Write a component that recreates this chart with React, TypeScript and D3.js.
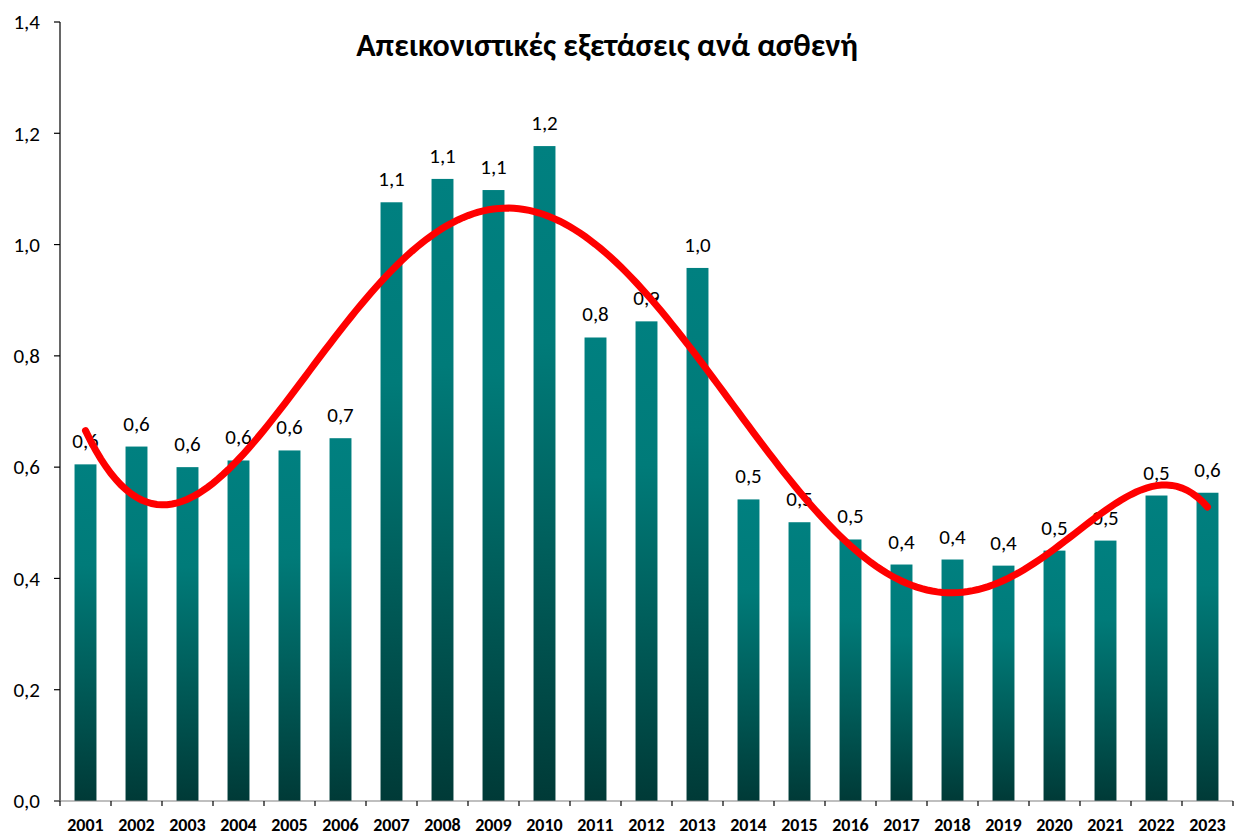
import React from "react";
import * as d3 from "d3";

const years = ["2001","2002","2003","2004","2005","2006","2007","2008","2009","2010","2011","2012","2013","2014","2015","2016","2017","2018","2019","2020","2021","2022","2023"];
const values = [0.605,0.637,0.600,0.612,0.630,0.652,1.076,1.118,1.098,1.177,0.833,0.862,0.958,0.542,0.501,0.470,0.425,0.434,0.423,0.450,0.468,0.549,0.554];
const yTicks = [0,0.2,0.4,0.6,0.8,1.0,1.2,1.4];
const title = "Απεικονιστικές εξετάσεις ανά ασθενή";

const W = 1240, H = 836;
const M = { left: 60, right: 1233, top: 22, bottom: 801 };

function polyFit(xs: number[], ys: number[], order: number): number[] {
  const n = order + 1;
  const A: number[][] = Array.from({ length: n }, () => new Array(n + 1).fill(0));
  for (let k = 0; k < xs.length; k++) {
    const p: number[] = [];
    for (let j = 0; j < 2 * n; j++) p.push(Math.pow(xs[k], j));
    for (let r = 0; r < n; r++) {
      for (let c = 0; c < n; c++) A[r][c] += p[r + c];
      A[r][n] += p[r] * ys[k];
    }
  }
  for (let i = 0; i < n; i++) {
    let mx = i;
    for (let r = i + 1; r < n; r++) if (Math.abs(A[r][i]) > Math.abs(A[mx][i])) mx = r;
    [A[i], A[mx]] = [A[mx], A[i]];
    for (let r = 0; r < n; r++) {
      if (r === i) continue;
      const f = A[r][i] / A[i][i];
      for (let c = i; c <= n; c++) A[r][c] -= f * A[i][c];
    }
  }
  return A.map((row, i) => row[n] / row[i]);
}

export default function App() {
  const x = d3.scaleBand<string>().domain(years).range([M.left, M.right]).paddingInner(0.57).paddingOuter(0.285);
  const xb = d3.scaleBand<string>().domain(years).range([M.left, M.right]);
  const y = d3.scaleLinear().domain([0, 1.4]).range([M.bottom, M.top]);
  const fmt = (v: number) => v.toFixed(1).replace(".", ",");

  const ts = years.map((_, i) => (i - 11) / 11);
  const coef = polyFit(ts, values, 6);
  const evalP = (t: number) => coef.reduce((s, c, j) => s + c * Math.pow(t, j), 0);
  const pts: [number, number][] = [];
  for (let k = 0; k <= 220; k++) {
    const i = (k / 220) * 22;
    const t = (i - 11) / 11;
    const px = xb(years[0])! + xb.bandwidth() / 2 + i * xb.step();
    pts.push([px, y(evalP(t))]);
  }
  const line = d3.line().curve(d3.curveLinear)(pts) || "";

  const font = "Calibri, Carlito, 'Open Sans', 'Noto Sans', sans-serif";

  return (
    <svg width={W} height={H} style={{ position: "absolute", left: 0, top: 0, background: "#fff" }} fontFamily={font}>
      <defs>
        <linearGradient id="barGrad" x1="0" y1="0" x2="0" y2="1">
          <stop offset="0" stopColor="#008080" />
          <stop offset="0.3" stopColor="#007b79" />
          <stop offset="0.6" stopColor="#00605d" />
          <stop offset="1" stopColor="#003a37" />
        </linearGradient>
      </defs>
      <rect x={0} y={0} width={W} height={H} fill="#fff" />
      {years.map((yr, i) => (
        <rect key={yr} x={x(yr)} y={y(values[i])} width={x.bandwidth()} height={y(0) - y(values[i])} fill="url(#barGrad)" />
      ))}
      <line x1={M.left} x2={M.left} y1={M.top} y2={M.bottom} stroke="#000" strokeWidth={1.2} />
      {yTicks.map((t) => (
        <g key={t}>
          <line x1={M.left - 6} x2={M.left} y1={y(t)} y2={y(t)} stroke="#000" strokeWidth={1.2} />
          <text x={40} y={y(t)} dy="0.35em" textAnchor="end" fontSize={21} fill="#000">{fmt(t)}</text>
        </g>
      ))}
      <line x1={M.left - 6} x2={M.right} y1={M.bottom} y2={M.bottom} stroke="#808080" strokeWidth={1.2} />
      {years.map((yr) => (
        <line key={"t" + yr} x1={xb(yr)! + xb.step()} x2={xb(yr)! + xb.step()} y1={M.bottom} y2={M.bottom + 5} stroke="#000" strokeWidth={1.2} />
      ))}
      <line x1={M.left} x2={M.left} y1={M.bottom} y2={M.bottom + 5} stroke="#000" strokeWidth={1.2} />
      {years.map((yr) => (
        <text key={"l" + yr} x={xb(yr)! + xb.bandwidth() / 2} y={831} textAnchor="middle" fontSize={18} fontWeight="bold" fill="#000">{yr}</text>
      ))}
      {years.map((yr, i) => (
        <text key={"v" + yr} x={x(yr)! + x.bandwidth() / 2} y={y(values[i]) - 16} textAnchor="middle" fontSize={21} fill="#000">{fmt(values[i])}</text>
      ))}
      <path d={line} fill="none" stroke="#ff0000" strokeWidth={7} strokeLinecap="round" />
      <text x={607} y={56} textAnchor="middle" fontSize={32} fontWeight="bold" fill="#000">{title}</text>
    </svg>
  );
}
